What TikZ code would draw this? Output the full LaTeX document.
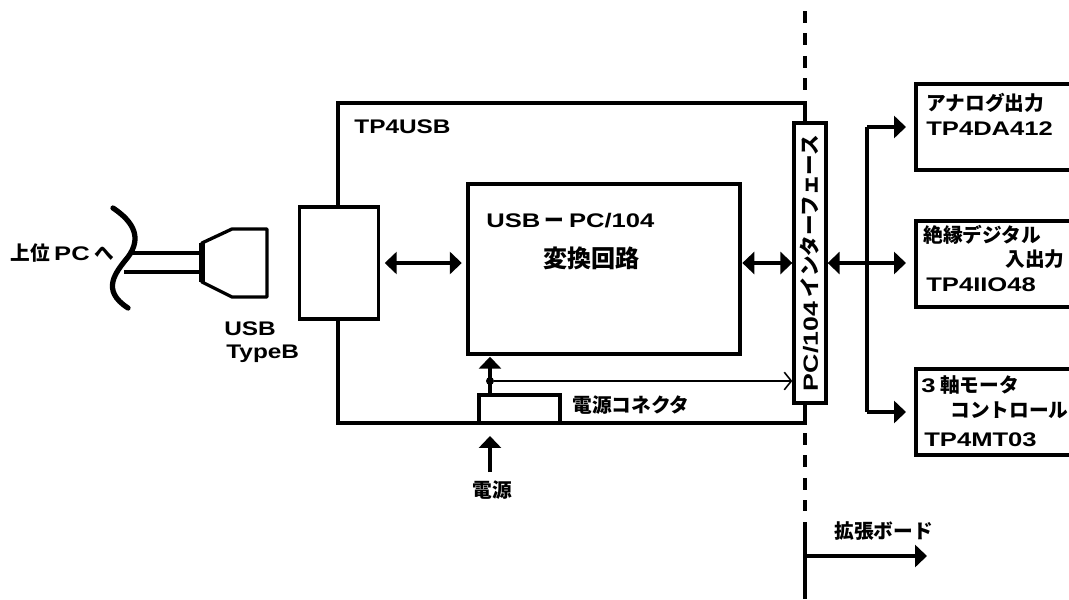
\documentclass[tikz,border=0pt]{standalone}
\usepackage{fontspec}
\setmainfont{Noto Sans CJK JP}
\newfontfamily\latn[FakeStretch=1.3]{Liberation Sans}
\newfontfamily\latnshort[FakeStretch=1.24]{Liberation Sans}
\usetikzlibrary{arrows.meta}

\tikzset{
	blockbox/.style={draw, fill=white, line width=1.9pt, inner sep=0pt},
	heavyline/.style={line width=1.9pt},
	tiparrow/.style={heavyline, -{Triangle[length=6.8pt,width=12.5pt]}},
	biarrow/.style={heavyline, {Triangle[length=6.8pt,width=12.5pt]}-{Triangle[length=6.8pt,width=12.5pt]}},
	dashline/.style={line width=2.4pt, dash pattern=on 6.8pt off 6pt},
	jptext/.style={anchor=west, inner sep=0pt, font=\bfseries\fontsize{11.2}{13}\selectfont}
}

\begin{document}
\begin{tikzpicture}[x=0.02cm, y=-0.02cm]
	
	\useasboundingbox (0,0) rectangle (1069,599);
	
	% expansion bus boundary
	\draw[dashline] (805,11) -- (805,90);
	\draw[dashline] (805,433) -- (805,511);
	\draw[heavyline] (805,522) -- (805,599);
	
	% main board
	\node[blockbox, minimum width=9.34cm, minimum height=6.4cm] (board) at (571.5,263) {};
	\node[blockbox, minimum width=1.58cm, minimum height=2.24cm] (usbbox) at (339,263) {};
	\node[blockbox, minimum width=5.44cm, minimum height=3.4cm] (conv) at (604,269) {};
	\node[blockbox, minimum width=0.64cm, minimum height=5.6cm] (iface) at (810,263) {};
	\node[blockbox, minimum width=1.62cm, minimum height=0.56cm] (pwrconn) at (519.5,409) {};
	
	\node[jptext] (boardname) at (354,127) {\latnshort\bfseries TP4USB};
	\node[jptext] (convname) at (486,221) {{\latn\bfseries USB} ー {\latn\bfseries PC/104}};
	\node[jptext, font=\bfseries\fontsize{13.7}{16}\selectfont] (convtext) at (543,258) {変換回路};
	\node[jptext] (pwrconnname) at (572,405) {電源コネクタ};
	\node[inner sep=0pt, rotate=90, font=\bfseries\fontsize{11.7}{13}\selectfont] (ifacename) at (iface) {{\latn\bfseries PC/104} インターフェース};
	
	% board connections
	\draw[biarrow, shorten <=2.6pt, shorten >=2.6pt] (usbbox.east) -- (usbbox.east -| conv.west);
	\draw[biarrow, shorten <=0.4pt] (conv.east |- usbbox) -- (iface.west);
	
	\node[circle, fill=black, inner sep=0pt, minimum size=0.16cm] (pwrdot) at (490,381) {};
	\draw[tiparrow, shorten >=0.6pt] (pwrdot |- pwrconn.north) -- (pwrdot |- conv.south);
	\draw[line width=0.9pt, -{Straight Barb[length=4pt,width=10pt]}] (pwrdot) -- (pwrdot -| iface.west);
	
	% power input
	\coordinate (pwrtail) at (490,472);
	\coordinate (pwrtip) at (490,436);
	\draw[tiparrow] (pwrtail) -- (pwrtip);
	\node[jptext] (pwrname) at (472,490) {電源};
	
	% cable and plug
	\draw[line width=3pt, line cap=round] (113,208) .. controls (134,222) and (142,238) .. (128,257) .. controls (116,272) and (100,290) .. (128,308);
	\coordinate (cabletop) at (132,253);
	\coordinate (cablebot) at (124,272);
	\draw[heavyline] (cabletop) -- (cabletop -| 202,0);
	\draw[heavyline] (cablebot) -- (cablebot -| 202,0);
	\draw[heavyline, line join=round] (202,243) -- (232,229) -- (267,229) -- (267,297) -- (232,297) -- (202,282) -- cycle;
	\draw[line width=2.9pt] (202,243) -- (202,282);
	\node[jptext] (hostname) at (10,253) {上位 {\latn\bfseries PC} へ};
	\node[jptext] (usbname) at (224,329) {\latnshort\bfseries USB};
	\node[jptext] (typename) at (226,354) {\latnshort\bfseries TypeB};
	
	% extension boards
	\draw[heavyline] (1069,84) -- (916,84) -- (916,170) -- (1069,170);
	\draw[heavyline] (1069,221) -- (916,221) -- (916,307) -- (1069,307);
	\draw[heavyline] (1069,369) -- (916,369) -- (916,455) -- (1069,455);
	
	\node[jptext] (daname) at (926,103) {アナログ出力};
	\node[jptext] (damodel) at (926,129) {\latn\bfseries TP4DA412};
	\node[jptext] (ioname) at (923,235) {絶縁デジタル};
	\node[jptext] (ioname2) at (1005,259) {入出力};
	\node[jptext] (iomodel) at (926,285) {\latn\bfseries TP4IIO48};
	\node[jptext] (mtname) at (921,385) {{\latn\bfseries 3} 軸モータ};
	\node[jptext] (mtname2) at (950,410) {コントロール};
	\node[jptext] (mtmodel) at (924,440) {\latn\bfseries TP4MT03};
	
	\coordinate (busmid) at (867,263);
	\coordinate (datip) at (906,127);
	\coordinate (iotip) at (906,263);
	\coordinate (mttip) at (906,412);
	\draw[tiparrow] (datip -| busmid) -- (datip);
	\draw[tiparrow] (mttip -| busmid) -- (mttip);
	\draw[heavyline] (datip -| busmid) -- (mttip -| busmid);
	\draw[biarrow] (iface.east) -- (iotip);
	
	% extension label
	\node[jptext] (extname) at (834,531) {拡張ボード};
	\coordinate (extroot) at (805,556);
	\coordinate (exttip) at (927,556);
	\draw[tiparrow] (extroot) -- (exttip);
	
\end{tikzpicture}
\end{document}
